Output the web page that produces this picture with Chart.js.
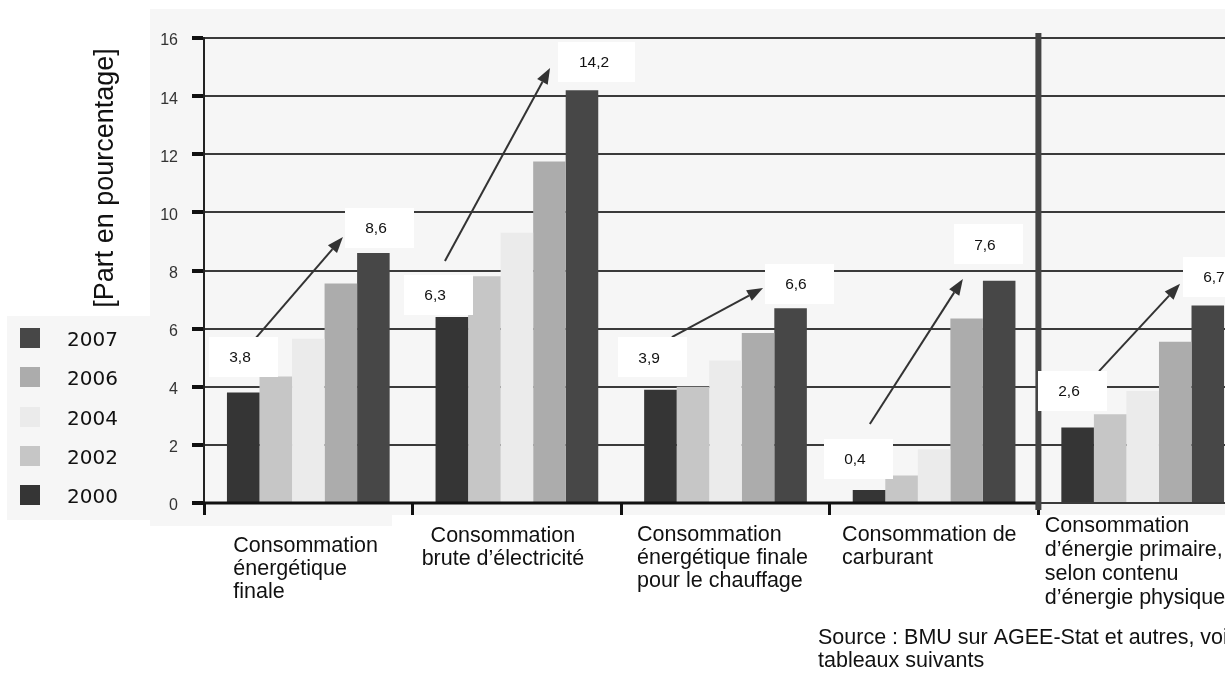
<!DOCTYPE html>
<html lang="fr">
<head>
<meta charset="utf-8">
<title>Part des énergies renouvelables</title>
<script src="https://cdn.jsdelivr.net/npm/chart.js@4/dist/chart.umd.min.js"></script>
<style>
  html, body { margin: 0; padding: 0; background: #fff; overflow: hidden; }
  #wrap { position: relative; width: 1225px; height: 675px; overflow: hidden; }
  canvas { display: block; }
</style>
</head>
<body>
<div id="wrap">
  <canvas id="chart" width="1260" height="675"></canvas>
</div>
<script>
// categories (multi-line labels)
const categories = [
  ["Consommation", "énergétique", "finale"],
  ["Consommation", "brute d’électricité"],
  ["Consommation", "énergétique finale", "pour le chauffage"],
  ["Consommation de", "carburant"],
  ["Consommation", "d’énergie primaire,", "selon contenu", "d’énergie physique"]
];
const years = ["2000", "2002", "2004", "2006", "2007"];

// share in percent
const share2000 = [3.8, 6.4, 3.9, 0.45, 2.6];
const share2002 = [4.35, 7.8, 4.0, 0.95, 3.05];
const share2004 = [5.65, 9.3, 4.9, 1.85, 3.85];
const share2006 = [7.55, 11.75, 5.85, 6.35, 5.55];
const share2007 = [8.6, 14.2, 6.7, 7.65, 6.8];

const yTicks = [0, 2, 4, 6, 8, 10, 12, 14, 16];

// callout texts
const startLabels = ["3,8", "6,3", "3,9", "0,4", "2,6"];
const endLabels = ["8,6", "14,2", "6,6", "7,6", "6,7"];

const yearColors = ["#353535", "#c6c6c6", "#ebebeb", "#acacac", "#474747"];
const FONT = "'Liberation Sans', Arial, sans-serif";

// callout placement: [offset from category centre (in categories), value]
const callouts = {
  startBox: [[-0.313, 5.02], [-0.378, 7.16], [-0.352, 5.01], [-0.365, 1.51], [-0.339, 3.85]],
  endBox: [[0.339, 9.46], [0.384, 15.18], [0.352, 7.54], [0.258, 8.90], [0.356, 7.79]],
  arrowFrom: [[-0.251, 5.68], [-0.345, 8.33], [-0.257, 5.71], [-0.308, 2.72], [-0.209, 4.54]],
  arrowTo: [[0.166, 9.15], [0.159, 14.97], [0.180, 7.40], [0.138, 7.71], [0.179, 7.54]]
};

const xLabelLayout = [
  { align: "left", dx: -75, base: 552, lh: 23 },
  { align: "center", dx: -14, base: 542, lh: 23 },
  { align: "left", dx: -88.5, base: 541, lh: 23 },
  { align: "left", dx: -92, base: 541, lh: 23 },
  { align: "left", dx: -98, base: 532, lh: 24 }
];

const allShares = [share2000, share2002, share2004, share2006, share2007];

function drawArrow(ctx, x1, y1, x2, y2) {
  const ang = Math.atan2(y2 - y1, x2 - x1);
  const headLen = 16, headW = 6;
  const bx = x2 - headLen * Math.cos(ang), by = y2 - headLen * Math.sin(ang);
  ctx.strokeStyle = "#333";
  ctx.fillStyle = "#333";
  ctx.lineWidth = 2;
  ctx.beginPath();
  ctx.moveTo(x1, y1);
  ctx.lineTo(bx, by);
  ctx.stroke();
  ctx.beginPath();
  ctx.moveTo(x2, y2);
  ctx.lineTo(bx + headW * Math.sin(ang), by - headW * Math.cos(ang));
  ctx.lineTo(bx - headW * Math.sin(ang), by + headW * Math.cos(ang));
  ctx.closePath();
  ctx.fill();
}

const decorations = {
  id: "decorations",
  beforeDraw(chart) {
    const ctx = chart.ctx;
    ctx.save();
    ctx.fillStyle = "#ffffff";
    ctx.fillRect(0, 0, chart.width, chart.height);
    ctx.fillStyle = "#f6f6f6";
    ctx.fillRect(150, 9, chart.width - 150, 506);
    ctx.fillRect(150, 515, 242, 11);
    ctx.fillRect(7, 316, 143, 204);
    ctx.restore();
  },
  afterDatasetsDraw(chart) {
    const ctx = chart.ctx;
    const x = chart.scales.x, y = chart.scales.y;
    const px = (i, p) => x.getPixelForValue(i + p[0]);
    const py = p => y.getPixelForValue(p[1]);
    ctx.save();

    // x axis line up to the separator
    const sepX = x.getPixelForValue(3.5);
    ctx.strokeStyle = "#111";
    ctx.lineWidth = 3;
    ctx.beginPath();
    ctx.moveTo(192, y.getPixelForValue(0));
    ctx.lineTo(sepX, y.getPixelForValue(0));
    ctx.stroke();

    // separator before the last group
    ctx.strokeStyle = "#444";
    ctx.lineWidth = 6;
    ctx.beginPath();
    ctx.moveTo(sepX, 33);
    ctx.lineTo(sepX, 510);
    ctx.stroke();

    categories.forEach((c, i) => {
      drawArrow(ctx, px(i, callouts.arrowFrom[i]), py(callouts.arrowFrom[i]),
        px(i, callouts.arrowTo[i]), py(callouts.arrowTo[i]));
    });

    ctx.font = "15.5px " + FONT;
    ctx.textAlign = "center";
    ctx.textBaseline = "middle";
    const box = (text, cx, cy) => {
      const w = ctx.measureText(text).width + 47, h = 40;
      ctx.fillStyle = "#ffffff";
      ctx.fillRect(Math.round(cx - w / 2), Math.round(cy - h / 2), Math.round(w), h);
      ctx.fillStyle = "#111";
      ctx.fillText(text, cx - 3, cy + 1);
    };
    categories.forEach((c, i) => {
      box(startLabels[i], px(i, callouts.startBox[i]), py(callouts.startBox[i]));
      box(endLabels[i], px(i, callouts.endBox[i]), py(callouts.endBox[i]));
    });
    ctx.restore();
  },
  afterDraw(chart) {
    const ctx = chart.ctx;
    const x = chart.scales.x;
    ctx.save();

    // category labels
    ctx.font = "21.5px " + FONT;
    ctx.fillStyle = "#111";
    ctx.textBaseline = "alphabetic";
    categories.forEach((lines, i) => {
      const lay = xLabelLayout[i];
      const cx = x.getPixelForValue(i) + lay.dx;
      ctx.textAlign = lay.align;
      lines.forEach((t, k) => ctx.fillText(t, cx, lay.base + k * lay.lh));
    });

    // source
    ctx.textAlign = "left";
    ctx.fillText("Source : BMU sur AGEE-Stat et autres, voir", 818, 644);
    ctx.fillText("tableaux suivants", 818, 667);

    // y title
    ctx.save();
    ctx.translate(113, 178);
    ctx.rotate(-Math.PI / 2);
    ctx.font = "27px " + FONT;
    ctx.textAlign = "center";
    ctx.fillText("[Part en pourcentage]", 0, 0);
    ctx.restore();

    // legend, newest year on top
    ctx.font = "20px 'DejaVu Sans', sans-serif";
    ctx.textAlign = "left";
    ctx.textBaseline = "alphabetic";
    const ds = chart.data.datasets.slice().reverse();
    ds.forEach((d, k) => {
      const cy = 338 + k * 39.3;
      ctx.fillStyle = d.backgroundColor;
      ctx.fillRect(20, Math.round(cy - 10), 20, 20);
      ctx.fillStyle = "#111";
      ctx.fillText(d.label, 67, cy + 8);
    });
    ctx.restore();
  }
};

new Chart(document.getElementById("chart"), {
  type: "bar",
  data: {
    labels: categories,
    datasets: years.map((yr, k) => ({
      label: yr,
      data: allShares[k],
      backgroundColor: yearColors[k],
      borderWidth: 0,
      categoryPercentage: 0.78,
      barPercentage: 1.0
    }))
  },
  options: {
    responsive: false,
    animation: false,
    devicePixelRatio: 1,
    layout: { padding: { top: 38, right: 13, left: 0, bottom: 0 } },
    plugins: {
      legend: { display: false },
      tooltip: { enabled: false }
    },
    scales: {
      x: {
        offset: true,
        ticks: { display: false },
        border: { display: false },
        grid: {
          offset: true,
          drawOnChartArea: false,
          drawTicks: true,
          tickLength: 12,
          tickWidth: 3,
          tickColor: "#111"
        },
        afterFit: s => { s.height = 172; }
      },
      y: {
        min: 0,
        max: 16,
        afterBuildTicks: s => { s.ticks = yTicks.map(v => ({ value: v })); },
        ticks: {
          font: { family: FONT, size: 16 },
          color: "#333",
          padding: 14,
          labelOffset: 3
        },
        grid: {
          color: "#3a3a3a",
          lineWidth: 2,
          tickLength: 12,
          tickWidth: 4,
          tickColor: "#111"
        },
        border: { color: "#222", width: 2 },
        afterFit: s => { s.width = 204; }
      }
    }
  },
  plugins: [decorations]
});
</script>
</body>
</html>
